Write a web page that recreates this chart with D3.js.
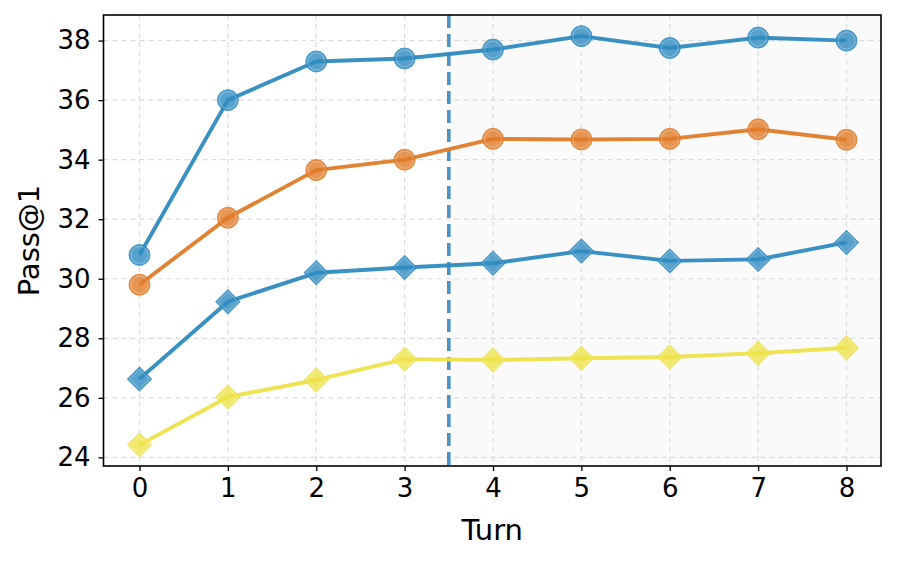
<!DOCTYPE html>
<html>
<head>
<meta charset="utf-8">
<script src="https://cdn.jsdelivr.net/npm/d3@7"></script>
<style>
  html, body { margin: 0; padding: 0; background: #fff; }
  svg { display: block; font-family: "DejaVu Sans", sans-serif; }
</style>
</head>
<body>
<svg id="chart" width="897" height="562"></svg>
<script>
const turns = [0, 1, 2, 3, 4, 5, 6, 7, 8];
const yTicks = [24, 26, 28, 30, 32, 34, 36, 38];
const seriesBlueCircle   = [30.8, 36.0, 37.3, 37.4, 37.7, 38.15, 37.75, 38.1, 38.0];
const seriesOrangeCircle = [29.8, 32.05, 33.65, 34.0, 34.7, 34.68, 34.7, 35.02, 34.67];
const seriesBlueDiamond  = [26.63, 29.23, 30.2, 30.38, 30.52, 30.93, 30.6, 30.65, 31.22];
const seriesYellowDiamond= [24.42, 26.03, 26.6, 27.3, 27.27, 27.33, 27.37, 27.5, 27.68];
const splitTurn = 3.5;

const series = [
  { values: seriesBlueCircle,    color: "#2E8BC0", shape: "circle" },
  { values: seriesOrangeCircle,  color: "#E07B28", shape: "circle" },
  { values: seriesBlueDiamond,   color: "#2E8BC0", shape: "diamond" },
  { values: seriesYellowDiamond, color: "#EEE24A", shape: "diamond" }
];

const svg = d3.select("#chart");
const L = 103.5, R = 881, T = 15, B = 466;

const x = d3.scaleLinear().domain([-0.407, 8.39]).range([L, R]);
const y = d3.scaleLinear().domain([23.71, 38.86]).range([B, T]);

// shaded region
svg.append("rect")
  .attr("x", x(splitTurn)).attr("y", T)
  .attr("width", R - x(splitTurn)).attr("height", B - T)
  .attr("fill", "#fafafa");

// grid
const grid = svg.append("g");
grid.selectAll("line.gx").data(turns).join("line")
  .attr("x1", d => x(d)).attr("x2", d => x(d))
  .attr("y1", T).attr("y2", B)
  .attr("stroke", "#dcdcdc").attr("stroke-width", 1.2)
  .attr("stroke-dasharray", "5,4");
grid.selectAll("line.gy").data(yTicks).join("line")
  .attr("x1", L).attr("x2", R)
  .attr("y1", d => y(d)).attr("y2", d => y(d))
  .attr("stroke", "#dcdcdc").attr("stroke-width", 1.2)
  .attr("stroke-dasharray", "5,4");

// vertical dashed split line
svg.append("line")
  .attr("x1", x(splitTurn)).attr("x2", x(splitTurn))
  .attr("y1", T).attr("y2", B)
  .attr("stroke", "#3A87C0").attr("stroke-opacity", 0.9)
  .attr("stroke-width", 3.6)
  .attr("stroke-dasharray", "13,6");

// series
const line = d3.line().x((d, i) => x(turns[i])).y(d => y(d));
const circleSym = d3.symbol().type(d3.symbolCircle).size(Math.PI * 10.5 * 10.5);
const diamondSym = d3.symbol().type(d3.symbolSquare).size(2 * 12 * 12);

series.forEach(s => {
  const g = svg.append("g");
  g.append("path")
    .attr("d", line(s.values))
    .attr("fill", "none")
    .attr("stroke", s.color)
    .attr("stroke-opacity", 0.95)
    .attr("stroke-width", 3.9)
    .attr("stroke-linejoin", "round");
  const pts = g.selectAll("g.pt").data(s.values).join("g")
    .attr("transform", (d, i) => `translate(${x(turns[i])},${y(d)})` + (s.shape === "diamond" ? " rotate(45)" : ""));
  pts.append("path")
    .attr("d", s.shape === "circle" ? circleSym() : diamondSym())
    .attr("fill", s.color)
    .attr("fill-opacity", 0.8)
    .attr("stroke", s.color)
    .attr("stroke-opacity", 0.8)
    .attr("stroke-width", 1);
  pts.append("path")
    .attr("d", s.shape === "circle"
      ? d3.symbol().type(d3.symbolCircle).size(Math.PI * 8.5 * 8.5)()
      : d3.symbol().type(d3.symbolSquare).size(2 * 10 * 10)())
    .attr("fill", "none")
    .attr("stroke", "#ffffff")
    .attr("stroke-opacity", 0.35)
    .attr("stroke-width", 0.8);
});

// frame
svg.append("rect")
  .attr("x", L).attr("y", T).attr("width", R - L).attr("height", B - T)
  .attr("fill", "none").attr("stroke", "#000").attr("stroke-width", 1.6);

// axes
const xAxis = d3.axisBottom(x).tickValues(turns).tickFormat(d3.format("d")).tickSize(5).tickPadding(8);
const yAxis = d3.axisLeft(y).tickValues(yTicks).tickFormat(d3.format("d")).tickSize(5).tickPadding(8);

const gx = svg.append("g").attr("transform", `translate(0,${B})`).call(xAxis);
const gy = svg.append("g").attr("transform", `translate(${L},0)`).call(yAxis);
[gx, gy].forEach(g => {
  g.select(".domain").remove();
  g.selectAll(".tick line").attr("stroke", "#000").attr("stroke-width", 1.3);
  g.selectAll(".tick text").attr("fill", "#000")
    .style("font-family", "'DejaVu Sans', sans-serif")
    .style("font-size", "26px");
});

// axis labels
svg.append("text")
  .attr("x", (L + R) / 2).attr("y", 540)
  .attr("text-anchor", "middle")
  .style("font-size", "29px")
  .attr("fill", "#000")
  .text("Turn");
svg.append("text")
  .attr("transform", `translate(39,${(T + B) / 2}) rotate(-90)`)
  .attr("text-anchor", "middle")
  .style("font-size", "29px")
  .attr("fill", "#000")
  .text("Pass@1");
</script>
</body>
</html>
